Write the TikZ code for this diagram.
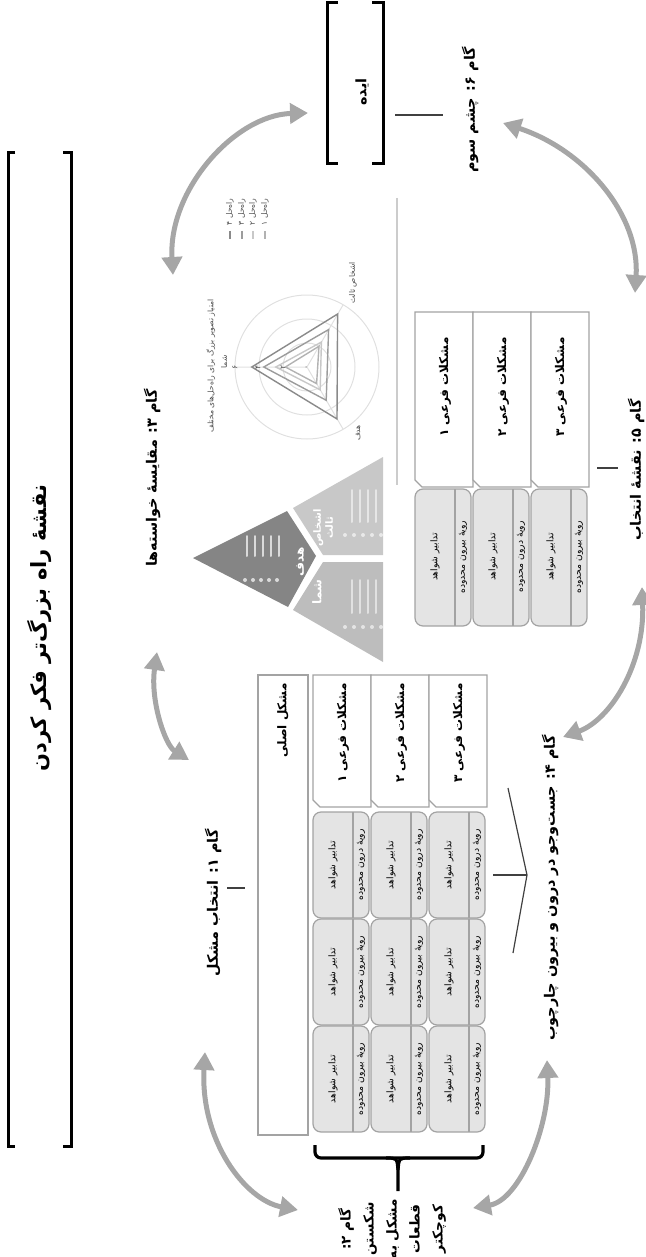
\documentclass[tikz,border=0pt]{standalone}
\usepackage{fontspec}
\newfontfamily\farsi[Script=Arabic]{DejaVu Sans}
\TeXXeTstate=1
\usetikzlibrary{arrows.meta, positioning}

\newcommand{\fa}[1]{{\farsi\beginR #1\endR}}

\definecolor{arrowgrey}{HTML}{A6A6A6}
\definecolor{boxline}{HTML}{A3A3A3}
\definecolor{cellfill}{HTML}{E4E4E4}
\definecolor{piecedark}{HTML}{858585}
\definecolor{piecelight}{HTML}{C8C8C8}
\definecolor{piecemid}{HTML}{BDBDBD}
\definecolor{chartgrid}{HTML}{E0E0E0}
\definecolor{solA}{HTML}{8A8A8A}
\definecolor{solB}{HTML}{9C9C9C}
\definecolor{solC}{HTML}{C8C8C8}
\definecolor{solD}{HTML}{B2B2B2}

\tikzset{%
   steplabel/.style={rotate=90, inner sep=0pt, font=\fontsize{7.2}{11.5}\selectfont\bfseries},
   cyclearrow/.style={draw=arrowgrey, line width=2.5pt,
      {Triangle[length=9pt, width=10pt]}-{Triangle[length=9pt, width=10pt]}},
   bracketline/.style={line width=1.5pt},
   tickline/.style={draw=black!75, line width=0.6pt},
   subhead/.style={draw=boxline, fill=white, line width=0.6pt},
   cell/.style={draw=boxline, fill=cellfill, rounded corners=4pt, line width=0.6pt},
   headtext/.style={rotate=90, anchor=east, inner sep=0pt, font=\fontsize{6}{7}\selectfont\bfseries},
   celltext/.style={rotate=90, inner sep=0pt, font=\fontsize{4.6}{5}\selectfont},
   charttext/.style={rotate=90, inner sep=0pt, text=black!70, font=\fontsize{3.8}{4.4}\selectfont},
   piecetext/.style={rotate=90, inner sep=0pt, text=white, align=center, font=\fontsize{6}{6.5}\selectfont\bfseries},
   piecebar/.style={line width=1pt, line cap=round},
}

\begin{document}
\begin{tikzpicture}[x=0.5pt, y=-0.5pt]
\useasboundingbox (0,0) rectangle (645,1257);

% title in its long bracket
\draw[bracketline] (15,153) -- (8,153) -- (8,1146) -- (15,1146);
\draw[bracketline] (63,153) -- (71,153) -- (71,1146) -- (63,1146);
\node[rotate=90, inner sep=0pt, font=\fontsize{10.5}{12}\selectfont\bfseries] (title) at (40,628)
   {\fa{نقشه^^^^0654 راه بزرگ^^^^200cتر فکر کردن}};

% the idea
\draw[bracketline] (338,3) -- (327,3) -- (327,164) -- (338,164);
\draw[bracketline] (372,3) -- (383,3) -- (383,164) -- (372,164);
\node[steplabel] (idea) at (362,92) {\fa{ایده}};

% step labels
\node[steplabel] (s1) at (213,903) {\fa{گام ۱: انتخاب مشکل}};
\node[steplabel, align=center, font=\fontsize{6.8}{11.5}\selectfont\bfseries] (s2) at (392,1229)
   {\fa{گام ۲:}\\\fa{شکستن}\\\fa{مشکل به}\\\fa{قطعات}\\\fa{کوچکتر}};
\node[steplabel] (s3) at (152,478) {\fa{گام ۳: مقایسه^^^^0654 خواسته^^^^200cها}};
\node[steplabel] (s4) at (550,888) {\fa{گام ۴: جست^^^^200cوجو در درون و بیرون چارچوب}};
\node[steplabel] (s5) at (636,470) {\fa{گام ۵: نقشه^^^^0654 انتخاب}};
\node[steplabel] (s6) at (470,110) {\fa{گام ۶: چشم سوم}};

% short ties from labels to their parts
\coordinate (s1t) at (227,888);  \coordinate (mainT) at (245,888);
\draw[tickline] (s1t) -- (mainT);
\coordinate (ideaT) at (395,115); \coordinate (s6t) at (443,115);
\draw[tickline] (ideaT) -- (s6t);
\coordinate (mapT) at (597,468); \coordinate (s5t) at (618,468);
\draw[tickline] (mapT) -- (s5t);
\coordinate (s4v) at (527,875);
\draw[tickline] (508,788) -- (s4v) -- (513,953);
\draw[tickline] (s4v) -- (493,875);

% brace under the grid
\draw[line width=1.6pt, rounded corners=3pt] (315,1145) -- (315,1158) -- (483,1158) -- (483,1145);
\draw[line width=1.6pt] (386,1158) .. controls (397,1158) .. (398,1170) -- (398,1191);
\draw[line width=1.6pt] (410,1158) .. controls (399,1158) .. (398,1170);

% main problem and its parts
\draw[subhead] (258,675) rectangle (308,1135);
\node[headtext] (mainprob) at (283,683) {\fa{مشکل اصلی}};
\foreach \c/\n in {0/۱, 1/۲, 2/۳} {
   \pgfmathsetmacro\xl{313+58*\c}
   \draw[subhead] (\xl,675) -- (\xl+58,675) -- (\xl+58,807) -- (\xl+7,807) -- (\xl,800) -- cycle;
   \node[headtext] (mh\c) at (\xl+30,683) {\fa{مشکلات فرعی \n}};
   \foreach \r/\t/\w in {0/812/درون, 1/919/بیرون, 2/1026/بیرون} {
      \draw[cell] (\xl,\t) rectangle (\xl+56,\t+106);
      \draw[boxline, line width=0.6pt] (\xl+40,\t) -- (\xl+40,\t+106);
      \node[celltext] (mc\c\r) at (\xl+20,\t+53) {\fa{تدابیر شواهد}};
      \node[celltext] (mr\c\r) at (\xl+48,\t+53) {\fa{رویه^^^^0654 \w\ محدوده}};
   }
}

% map of choices
\draw[draw=black!20, line width=0.6pt] (397,198) -- (397,485);
\foreach \c/\n/\w in {0/۱/بیرون, 1/۲/درون, 2/۳/بیرون} {
   \pgfmathsetmacro\xl{415+58*\c}
   \draw[subhead] (\xl,312) -- (\xl+58,312) -- (\xl+58,487) -- (\xl+7,487) -- (\xl,480) -- cycle;
   \node[headtext] (ch\c) at (\xl+30,337) {\fa{مشکلات فرعی \n}};
   \draw[cell] (\xl,489) rectangle (\xl+56,626);
   \draw[boxline, line width=0.6pt] (\xl+40,489) -- (\xl+40,626);
   \node[celltext] (cc\c) at (\xl+20,557) {\fa{تدابیر شواهد}};
   \node[celltext] (cr\c) at (\xl+48,557) {\fa{رویه^^^^0654 \w\ محدوده}};
}

% three wishes
\fill[piecedark] (193,558) -- (287,511) -- (316,556) -- (288,607) -- cycle;
\fill[piecelight] (293,508) -- (383,457) -- (383,555) -- (323,555) -- cycle;
\fill[piecemid] (323,562) -- (383,562) -- (383,662) -- (293,610) -- cycle;
\foreach \x in {247,255,...,279} \draw[piecebar, draw=white!70!piecedark] (\x,536) -- (\x,556);
\foreach \x in {245,253,...,277} \fill[white!70!piecedark] (\x,580) circle[radius=1pt];
\foreach \x in {352,360,...,376} {
   \draw[piecebar, draw=white!55!piecelight] (\x,490) -- (\x,522);
   \draw[piecebar, draw=white!55!piecemid] (\x,580) -- (\x,613);
}
\foreach \x in {345,354,...,381} {
   \fill[white!60!piecelight] (\x,535) circle[radius=1pt];
   \fill[white!60!piecemid] (\x,627) circle[radius=1pt];
}
\node[piecetext] (goal) at (300,562) {\fa{هدف}};
\node[piecetext] (you) at (317,592) {\fa{شما}};
\node[piecetext, font=\fontsize{5}{6}\selectfont\bfseries] (others) at (323,528)
   {\fa{اشخاص}\\\fa{ثالث}};

% radar chart
\coordinate (rc) at (307,367);
\foreach \r in {12,24,36} \draw[chartgrid, line width=0.5pt] (rc) circle[radius=\r pt];
\draw[chartgrid, line width=0.5pt] (235,367) -- (rc) -- (343,305) (rc) -- (343,429);
\foreach \a/\b/\c/\col in {4.6/5.1/5.0/solA, 3.6/3.6/3.2/solB, 2.6/2.4/2.2/solC, 1.8/2.0/1.6/solD}
   \draw[\col, line width=0.7pt] (307-12*\a,367) -- (307+6*\b,367-10.39*\b) -- (307+6*\c,367+10.39*\c) -- cycle;
\foreach \v/\y/\k in {۶/235/6, ۴/258/4, ۲/283/2, ۰/307/0} \node[charttext] (tick\k) at (\y,367) {\fa{\v}};
\node[charttext] (charttitle) at (211,366) {\fa{امتیاز تصویر بزرگ برای راه^^^^200cحل^^^^200cهای مختلف}};
\node[charttext] (axyou) at (224,362) {\fa{شما}};
\node[charttext] (axothers) at (353,283) {\fa{اشخاص ثالث}};
\node[charttext] (axgoal) at (358,433) {\fa{هدف}};
\foreach \x/\n/\k/\col in {230/۴/4/solA, 242/۳/3/solB, 253/۲/2/solC, 265/۱/1/solD} {
   \node[charttext, anchor=east] (leg\k) at (\x,198) {\fa{راه^^^^200cحل \n}};
   \draw[\col, line width=1.2pt] (\x,231) -- (\x,239);
}

% the cycle of steps
\coordinate (a1s) at (173,275); \coordinate (a1e) at (308,113);
\draw[cyclearrow] (a1s) .. controls (168,190) and (235,115) .. (a1e);
\coordinate (a2s) at (503,123); \coordinate (a2e) at (635,293);
\draw[cyclearrow] (a2s) .. controls (585,150) and (640,215) .. (a2e);
\coordinate (a3s) at (642,587); \coordinate (a3e) at (563,737);
\draw[cyclearrow] (a3s) .. controls (645,665) and (610,720) .. (a3e);
\coordinate (a4s) at (157,652); \coordinate (a4e) at (189,760);
\draw[cyclearrow] (a4s) .. controls (150,700) and (165,745) .. (a4e);
\coordinate (a5s) at (205,1052); \coordinate (a5e) at (298,1210);
\draw[cyclearrow] (a5s) .. controls (200,1140) and (245,1200) .. (a5e);
\coordinate (a6s) at (473,1208); \coordinate (a6e) at (547,1060);
\draw[cyclearrow] (a6s) .. controls (520,1200) and (550,1125) .. (a6e);
\end{tikzpicture}
\end{document}
